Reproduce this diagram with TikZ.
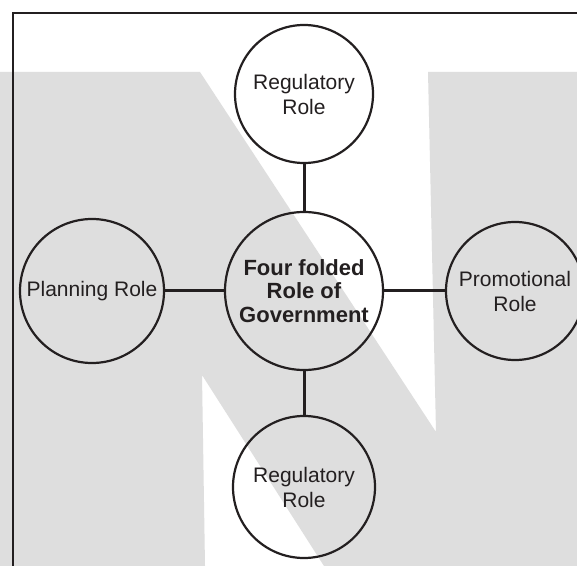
\documentclass[tikz,border=0pt]{standalone}
\usepackage{fontspec}
\setmainfont{Liberation Sans}
\definecolor{bggray}{RGB}{222,222,222}
\definecolor{ink}{RGB}{35,31,32}
\begin{document}
\begin{tikzpicture}[x=0.5pt,y=-0.5pt,
        role/.style={circle, draw=ink, line width=1.1pt, minimum size=#1, inner sep=0pt,
            align=center, text=ink, font=\fontsize{10.5}{12.5}\selectfont},
        hub/.style={role=#1, font=\fontsize{11}{11.8}\selectfont\bfseries},
        link/.style={draw=ink, line width=1.5pt}
    ]
        \clip (0,0) rectangle (577,566);
        \fill[white] (0,0) rectangle (577,566);

        % N in the background
        \fill[bggray] (0,72) -- (200,72) -- (436,432) -- (428,72) -- (577,72) -- (577,566)
            -- (324,566) -- (202,375) -- (205,566) -- (0,566) -- cycle;

        % frame
        \draw[ink, line width=1pt] (13,600) -- (13,13) -- (600,13);

        % centre
        \node[hub=79pt] (gov) at (304,291) {Four folded\\Role of\\Government};

        % roles
        \node[role=69pt] (regtop) at (304,94) {Regulatory\\Role};
        \node[role=72pt] (planning) at (92,291) {Planning Role};
        \node[role=69pt] (promo) at (515,291) {Promotional\\Role};
        \node[role=71pt] (regbot) at (304,487) {Regulatory\\Role};

        % connections
        \draw[link] (gov) -- (regtop);
        \draw[link] (gov) -- (planning);
        \draw[link] (gov) -- (promo);
        \draw[link] (gov) -- (regbot);
    \end{tikzpicture}
\end{document}
